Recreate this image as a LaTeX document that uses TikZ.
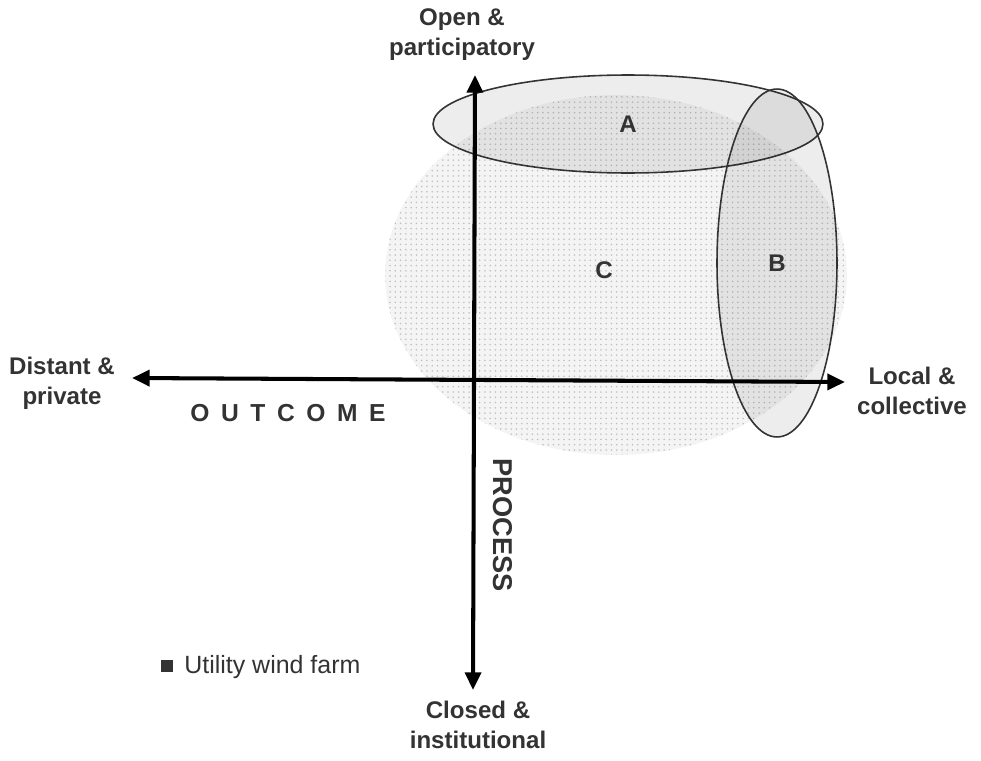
\documentclass[tikz,border=0pt]{standalone}
\usepackage{fontspec}
\setmainfont{Liberation Sans}
\usetikzlibrary{shapes.geometric,arrows.meta,patterns}
\definecolor{ink}{gray}{0.2}
\begin{document}
\begin{tikzpicture}[x=0.02cm,y=-0.02cm,
  lbl/.style={font=\fontsize{13.7}{17}\selectfont\bfseries, text=ink, align=center, inner sep=0pt},
  region/.style={ellipse, draw=ink, line width=0.9pt, fill=black, fill opacity=0.07, text opacity=1, draw opacity=1, inner sep=0pt, font=\fontsize{13.7}{17}\selectfont\bfseries, text=ink},
  axis/.style={line width=2.3pt, black, {Triangle[length=10pt,width=9pt]}-{Triangle[length=10pt,width=9pt]}}]
\useasboundingbox (0,0) rectangle (981,761);
% blob C
\node[ellipse, preaction={fill=gray!9}, pattern=dots, pattern color=gray!50, minimum width=9.24cm, minimum height=7.2cm, inner sep=0pt] (Cblob) at (616,275) {};
\node[lbl] (C) at (604,270) {C};
% ellipses A and B
\node[region, minimum width=7.8cm, minimum height=1.96cm] (A) at (628,124) {A};
\node[region, minimum width=2.4cm, minimum height=6.96cm] (B) at (777,263) {B};
% axes
\coordinate (top) at (475,75);
\coordinate (bot) at (473,690);
\coordinate (left) at (132,378);
\coordinate (right) at (845,382);
\draw[axis] (bot) -- (top);
\draw[axis] (left) -- (right);
% axis end labels
\node[lbl] (open) at (462,35) {Open \&\\participatory};
\node[lbl] (distant) at (62,383) {Distant \&\\private};
\node[lbl] (local) at (912,391) {Local \&\\collective};
\node[lbl] (closed) at (478,725) {Closed \&\\institutional};
% axis names
\node[lbl, font=\fontsize{14}{17}\selectfont\bfseries] (outcome) at (288,413) {O\kern6.6pt U\kern6.6pt T\kern6.6pt C\kern6.6pt O\kern6.6pt M\kern6.6pt E};
\node[lbl, font=\fontsize{15.5}{17}\selectfont\bfseries, rotate=-90] (process) at (503,525) {PROCESS};
% legend
\node[fill=ink, minimum size=7pt, inner sep=0pt] (sq) at (167,666) {};
\node[lbl, font=\fontsize{14.2}{17}\selectfont, anchor=west] (legend) at (184,667) {Utility wind farm};
\end{tikzpicture}
\end{document}
